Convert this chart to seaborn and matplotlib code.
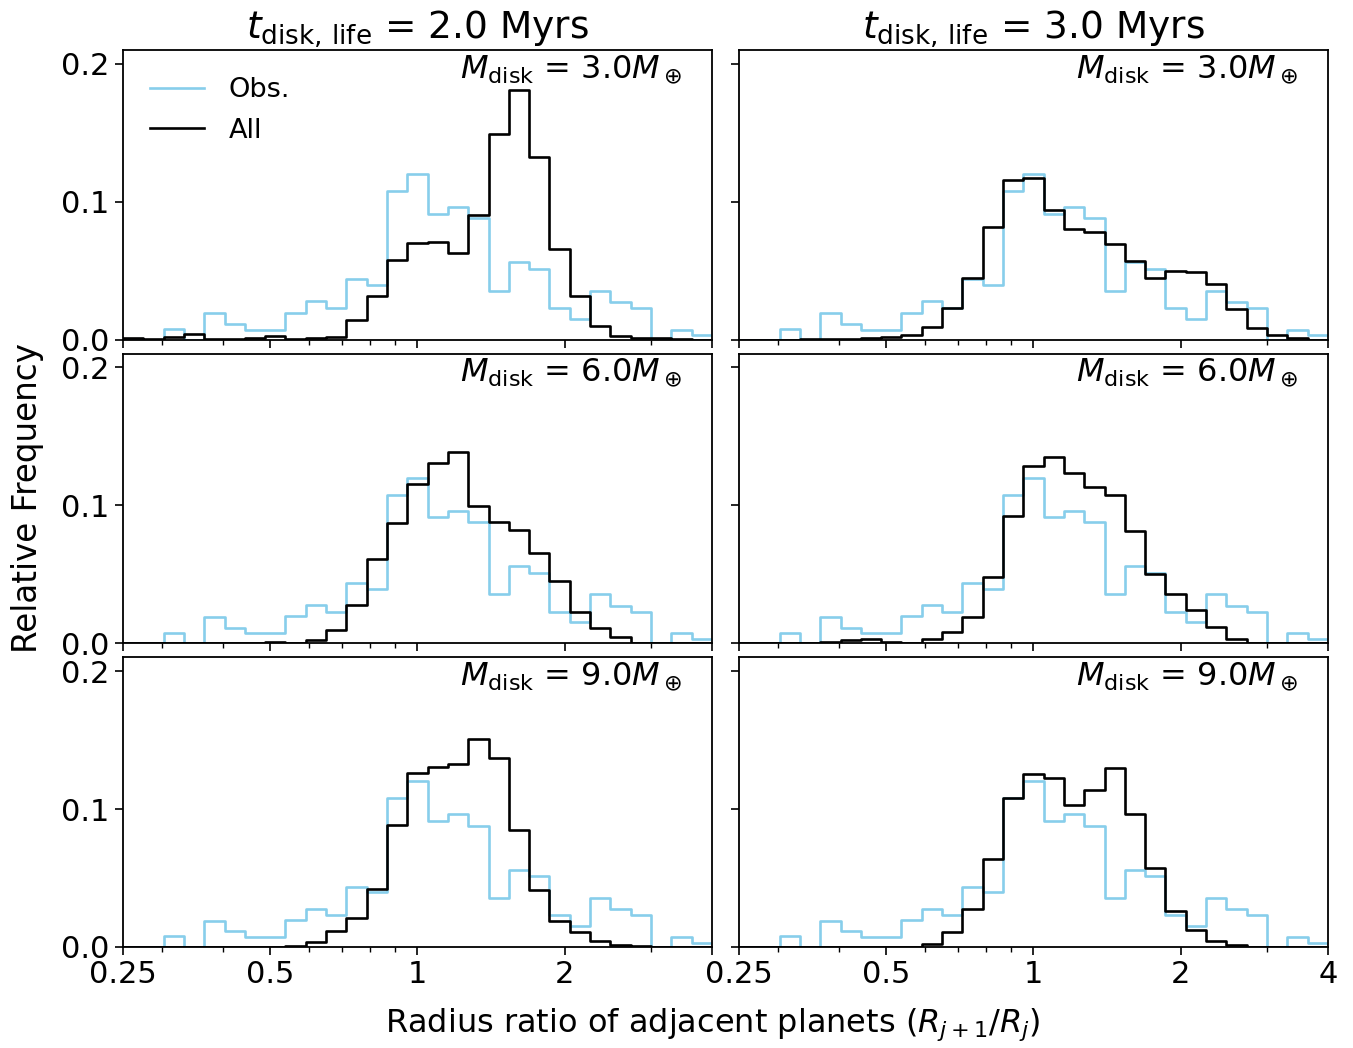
import numpy as np
import pandas as pd
import matplotlib
matplotlib.use("Agg")
import matplotlib.pyplot as plt
from matplotlib.lines import Line2D
from matplotlib.ticker import NullFormatter
import seaborn as sns

# ---------------- data (relative frequency per log-spaced bin, 29 bins 0.25 -> 4) ----------------
x_min, x_max, n_bins = 0.25, 4.0, 29

obs = [0.0, 0.0, 0.0076, 0.0, 0.019, 0.0114, 0.0073, 0.0073, 0.0195, 0.0278,
       0.0229, 0.0438, 0.0395, 0.1077, 0.120, 0.0913, 0.0962, 0.088, 0.0356, 0.056,
       0.0512, 0.0229, 0.0151, 0.0356, 0.0273, 0.0229, 0.0, 0.0073, 0.0032]

all_t2_m3 = [0.0012, 0.0002, 0.0022, 0.0039, 0.0002, 0.0002, 0.0012, 0.0024, 0.0003, 0.001,
             0.0022, 0.0144, 0.0317, 0.0580, 0.0699, 0.0706, 0.0628, 0.0902, 0.149, 0.1813,
             0.1322, 0.066, 0.0317, 0.0100, 0.0024, 0.0015, 0.0015, 0.0002, 0.0]

all_t3_m3 = [0.0, 0.0, 0.0, 0.0003, 0.0005, 0.0007, 0.0015, 0.0022, 0.0037, 0.0093,
             0.023, 0.0446, 0.0816, 0.1157, 0.1174, 0.0938, 0.0801, 0.0784, 0.0692, 0.0573,
             0.0446, 0.0495, 0.049, 0.0402, 0.0222, 0.0088, 0.0032, 0.0012, 0.0]

all_t2_m6 = [0.0, 0.0005, 0.0005, 0.0005, 0.0005, 0.0, 0.0, 0.001, 0.0002, 0.0024,
             0.0099, 0.0278, 0.0611, 0.087, 0.1155, 0.131, 0.1384, 0.0998, 0.0882, 0.0821,
             0.0655, 0.0452, 0.0229, 0.0111, 0.0048, 0.0005, 0.0, 0.0, 0.0]

all_t3_m6 = [0.0, 0.0, 0.0, 0.0005, 0.0012, 0.0024, 0.0034, 0.0012, 0.0005, 0.0029,
             0.0085, 0.0188, 0.0483, 0.0925, 0.1285, 0.135, 0.1232, 0.1135, 0.1077, 0.0812,
             0.0502, 0.0357, 0.0244, 0.0118, 0.0034, 0.0005, 0.0, 0.0, 0.0]

all_t2_m9 = [0.0, 0.0, 0.0, 0.0, 0.0, 0.0, 0.0, 0.0, 0.0007, 0.0034,
             0.0116, 0.0208, 0.0421, 0.0884, 0.1262, 0.1305, 0.1329, 0.1511, 0.1368, 0.0845,
             0.0412, 0.0186, 0.0111, 0.0044, 0.0017, 0.0005, 0.0, 0.0, 0.0]

all_t3_m9 = [0.0, 0.0, 0.0, 0.0, 0.0, 0.0, 0.0, 0.0, 0.0, 0.0024,
             0.0111, 0.0276, 0.0639, 0.1077, 0.1257, 0.1225, 0.1029, 0.1138, 0.1298, 0.0964,
             0.0571, 0.0262, 0.0121, 0.0044, 0.0012, 0.0002, 0.0, 0.0, 0.0]

t_life = [2.0, 3.0]
m_disk = [3.0, 6.0, 9.0]
sim = {(0, 0): all_t2_m3, (0, 1): all_t3_m3,
       (1, 0): all_t2_m6, (1, 1): all_t3_m6,
       (2, 0): all_t2_m9, (2, 1): all_t3_m9}

xticks = [0.25, 0.5, 1, 2, 4]
xticklabels = ["0.25", "0.5", "1", "2", "4"]
yticks = [0.0, 0.1, 0.2]

# bin centres (geometric) in data units
lo, hi = np.log10(x_min), np.log10(x_max)
dl = (hi - lo) / n_bins
centers = 10 ** (lo + (np.arange(n_bins) + 0.5) * dl)

obs_color = "#87CEEB"
all_color = "black"
lw = 1.9

plt.rcParams["font.family"] = ["DejaVu Sans"]
plt.rcParams["axes.linewidth"] = 1.3
plt.rcParams["mathtext.fontset"] = "dejavusans"

fig, axes = plt.subplots(3, 2, figsize=(13.53, 10.48), dpi=100, sharex="col", sharey=True)
fig.subplots_adjust(left=0.0909, right=0.9815, top=0.9523, bottom=0.0964,
                    wspace=27 / 589, hspace=14 / 290)

for r in range(3):
    for c in range(2):
        ax = axes[r, c]
        df_obs = pd.DataFrame({"x": centers, "w": obs})
        df_all = pd.DataFrame({"x": centers, "w": sim[(r, c)]})
        sns.histplot(data=df_obs, x="x", weights="w", bins=n_bins, binrange=(lo, hi),
                     log_scale=True, element="step", fill=False, stat="count",
                     color=obs_color, linewidth=lw, ax=ax)
        sns.histplot(data=df_all, x="x", weights="w", bins=n_bins, binrange=(lo, hi),
                     log_scale=True, element="step", fill=False, stat="count",
                     color=all_color, linewidth=lw, ax=ax)
        ax.set_xlim(x_min, x_max)
        ax.set_ylim(0, 0.21)
        ax.set_yticks(yticks)
        ax.set_xticks(xticks)
        ax.xaxis.set_minor_formatter(NullFormatter())
        ax.set_xlabel("")
        ax.set_ylabel("")
        ax.tick_params(axis="both", which="major", labelsize=22, length=6, width=1.2)
        ax.tick_params(axis="x", which="minor", length=3.5, width=1.0)
        ax.text(0.95, 0.99, r"$M_{\rm disk}$ = " + f"{m_disk[r]:.1f}" + r"$M_\oplus$",
                transform=ax.transAxes, ha="right", va="top", fontsize=23)
        if r == 0:
            ax.set_title(r"$t_{\rm disk,\,life}$ = " + f"{t_life[c]:.1f} Myrs",
                         fontsize=27, pad=5)

axes[2, 0].set_xticklabels(["0.25", "0.5", "1", "2", ""])
axes[2, 1].set_xticklabels(xticklabels)

handles = [Line2D([], [], color=obs_color, lw=lw), Line2D([], [], color=all_color, lw=lw)]
axes[0, 0].legend(handles, ["Obs.", "All"], loc="upper left", frameon=False, fontsize=19.5,
                  handlelength=2.0, handletextpad=0.9, borderaxespad=0.6, labelspacing=0.55)

fig.text(0.527, 0.022, r"Radius ratio of adjacent planets ($R_{j+1}/R_j$)",
         ha="center", va="center", fontsize=23)
fig.text(0.02, 0.525, "Relative Frequency", ha="center", va="center",
         rotation=90, fontsize=23.5)

fig.savefig("out.png", dpi=100)
